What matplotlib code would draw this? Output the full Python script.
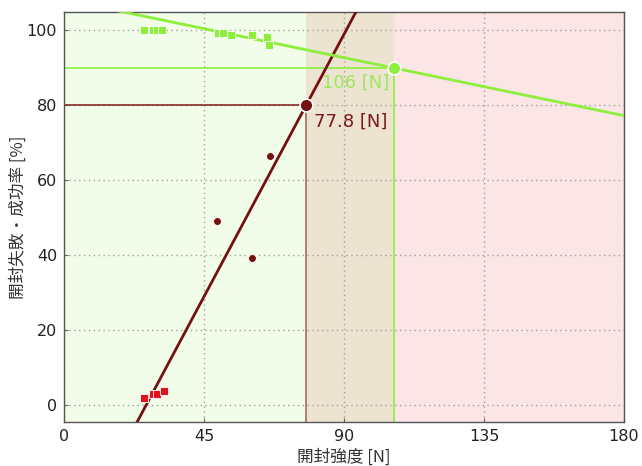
import matplotlib
matplotlib.use("Agg")
import matplotlib.pyplot as plt
import numpy as np

plt.rcParams['font.family'] = ['DejaVu Sans', 'Noto Sans CJK JP']

# Measured failure rates (red squares) and failure rates from later lots (dark circles)
fail_sq_x = [25.7, 28.5, 30.0, 32.2]
fail_sq_y = [1.9, 2.9, 2.9, 3.8]
fail_pt_x = [49.3, 60.5, 66.2]
fail_pt_y = [49.1, 39.3, 66.5]

# Success rates
succ_x = [25.7, 28.5, 30.0, 31.5, 49.5, 51.0, 53.8, 60.5, 65.2, 66.0]
succ_y = [100, 100, 100, 100, 99.2, 99.2, 98.8, 98.8, 98.2, 96.2]

# Fitted lines: failure rate and success rate vs. opening strength
fail_target = 80.0
fail_x_at_target = 77.8
fail_slope = 1.556
succ_target = 90.0
succ_x_at_target = 106.0
succ_slope = -0.172

x_ticks = [0, 45, 90, 135, 180]
y_ticks = [0, 20, 40, 60, 80, 100]
x_lim = (0, 180)
y_lim = (-4.5, 104.8)

dark_red = '#741010'
green = '#8def3c'
green_label = '#9be85e'
red = '#e0141a'

fig = plt.figure(figsize=(6.42, 4.66), dpi=100)
ax = fig.add_axes([64 / 642, 1 - 422 / 466, 560 / 642, 409.5 / 466])
ax.set_xlim(*x_lim)
ax.set_ylim(*y_lim)

# Background zones
ax.axvspan(x_lim[0], fail_x_at_target, color='#f1fde9', zorder=0, lw=0)
ax.axvspan(fail_x_at_target, succ_x_at_target, color='#ede3d1', zorder=0, lw=0)
ax.axvspan(succ_x_at_target, x_lim[1], color='#fbe5e5', zorder=0, lw=0)

ax.set_xticks(x_ticks)
ax.set_yticks(y_ticks)
ax.grid(True, color='#a0a0a0', linestyle=(0, (1, 2.5)), linewidth=1.0, zorder=1)
ax.tick_params(direction='in', length=3, color='#666666', labelsize=11.5,
               labelcolor='#222222', pad=5)
for s in ax.spines.values():
    s.set_color('#555555')
    s.set_linewidth(1.0)

# Guide lines
ax.plot([x_lim[0], fail_x_at_target], [fail_target, fail_target], color='#8a2a2a', lw=1.2, zorder=2)
ax.plot([fail_x_at_target, fail_x_at_target], [y_lim[0], fail_target], color='#a8675a', lw=1.2, zorder=2)
ax.plot([x_lim[0], succ_x_at_target], [succ_target, succ_target], color=green, lw=1.2, zorder=2)
ax.plot([succ_x_at_target, succ_x_at_target], [y_lim[0], succ_target], color=green, lw=1.2, zorder=2)

# Fit lines
xs = np.array(x_lim, dtype=float)
ax.plot(xs, fail_target + fail_slope * (xs - fail_x_at_target), color=dark_red, lw=2.0, zorder=3)
ax.plot(xs, succ_target + succ_slope * (xs - succ_x_at_target), color=green, lw=2.0, zorder=3)

# Data points
ax.scatter(succ_x, succ_y, marker='s', s=28, color=green, edgecolor='white', linewidth=0.6, zorder=4)
ax.scatter(fail_sq_x, fail_sq_y, marker='s', s=28, color=red, edgecolor='white', linewidth=0.6, zorder=4)
ax.scatter(fail_pt_x, fail_pt_y, marker='o', s=32, color=dark_red, edgecolor='white', linewidth=0.6, zorder=4)

# Threshold markers
ax.scatter([fail_x_at_target], [fail_target], marker='o', s=85, color=dark_red, edgecolor='white', linewidth=1.2, zorder=5)
ax.scatter([succ_x_at_target], [succ_target], marker='o', s=85, color=green, edgecolor='white', linewidth=1.2, zorder=5)

ax.text(83.0, 86.0, f'{succ_x_at_target:g} [N]', color=green_label, fontsize=13, va='center', ha='left', zorder=6)
ax.text(80.5, 75.6, f'{fail_x_at_target:g} [N]', color='#7a1a1a', fontsize=13, va='center', ha='left', zorder=6)

ax.set_xlabel('開封強度 [N]', fontsize=12, color='#333333', labelpad=3,
              family=['Noto Sans CJK JP', 'DejaVu Sans'])
ax.set_ylabel('開封失敗・成功率 [%]', fontsize=12, color='#333333',
              family=['Noto Sans CJK JP', 'DejaVu Sans'])
ax.yaxis.set_label_coords(-0.066, 0.5)

fig.savefig('out.png', dpi=100)
